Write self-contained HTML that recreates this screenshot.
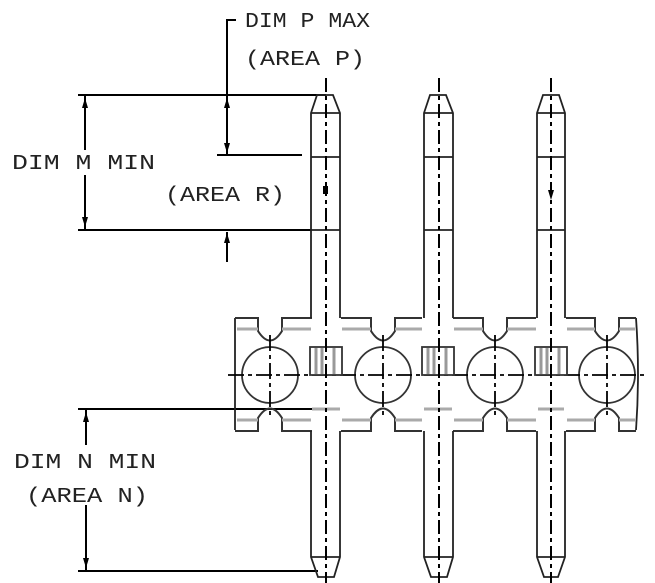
<!DOCTYPE html>
<html><head><style>html,body{margin:0;padding:0;background:#fff}svg{display:block}
text{font-family:"Liberation Mono",monospace;font-size:21px;fill:#222}</style></head>
<body>
<svg width="655" height="583" viewBox="0 0 655 583" xmlns="http://www.w3.org/2000/svg">
<g stroke="#000" stroke-width="2" fill="none">
<polyline points="236,20 227,20 227,155"/>
<line x1="217" y1="155" x2="302" y2="155"/>
<line x1="227" y1="232" x2="227" y2="262"/>
<line x1="78" y1="95" x2="326" y2="95"/>
<line x1="78" y1="230" x2="312" y2="230"/>
<line x1="85" y1="95" x2="85" y2="150"/>
<line x1="85" y1="175" x2="85" y2="230"/>
<line x1="78" y1="409" x2="312" y2="409"/>
<line x1="78" y1="571" x2="318" y2="571"/>
<line x1="86" y1="409" x2="86" y2="445"/>
<line x1="86" y1="505" x2="86" y2="571"/>
</g>
<g fill="#000">
<polygon points="227,98 224,108 230,108"/><polygon points="227,153 224,143 230,143"/>
<polygon points="227,233 224,243 230,243"/>
<polygon points="85,98 82,108 88,108"/><polygon points="85,227 82,217 88,217"/>
<polygon points="86,412 83,422 89,422"/><polygon points="86,568 83,558 89,558"/>
</g>
<text x="245" y="27" textLength="125" lengthAdjust="spacingAndGlyphs">DIM P MAX</text>
<text x="245" y="65" textLength="120" lengthAdjust="spacingAndGlyphs">(AREA P)</text>
<text x="12" y="169" textLength="143" lengthAdjust="spacingAndGlyphs">DIM M MIN</text>
<text x="165" y="201" textLength="120" lengthAdjust="spacingAndGlyphs">(AREA R)</text>
<text x="14" y="468" textLength="142" lengthAdjust="spacingAndGlyphs">DIM N MIN</text>
<text x="26" y="502" textLength="122" lengthAdjust="spacingAndGlyphs">(AREA N)</text>

<g stroke="#222" stroke-width="1.8" fill="none">
<path d="M235,318 L235,430"/>
<path d="M636,318 Q640,374 636,430"/>
</g>
<g stroke="#333" stroke-width="2" fill="none">
<path d="M235,318 H258 V331 Q270,350 282,331 V318 H312"/>
<path d="M341,318 H371 V331 Q383,350 395,331 V318 H422"/>
<path d="M453,318 H483 V331 Q495,350 507,331 V318 H536"/>
<path d="M566,318 H595 V331 Q607,350 619,331 V318 H636"/>
<path d="M235,431 H258 V418 Q270,399 282,418 V431 H312"/>
<path d="M341,431 H371 V418 Q383,399 395,418 V431 H422"/>
<path d="M453,431 H483 V418 Q495,399 507,418 V431 H536"/>
<path d="M566,431 H595 V418 Q607,399 619,418 V431 H636"/>
</g>
<g stroke="#aaa" stroke-width="3">
<line x1="237" y1="329" x2="258" y2="329"/><line x1="282" y1="329" x2="311" y2="329"/>
<line x1="342" y1="329" x2="371" y2="329"/><line x1="395" y1="329" x2="422" y2="329"/>
<line x1="454" y1="329" x2="483" y2="329"/><line x1="507" y1="329" x2="536" y2="329"/>
<line x1="567" y1="329" x2="595" y2="329"/><line x1="619" y1="329" x2="635" y2="329"/>
<line x1="237" y1="420" x2="258" y2="420"/><line x1="282" y1="420" x2="311" y2="420"/>
<line x1="342" y1="420" x2="371" y2="420"/><line x1="395" y1="420" x2="422" y2="420"/>
<line x1="454" y1="420" x2="483" y2="420"/><line x1="507" y1="420" x2="536" y2="420"/>
<line x1="567" y1="420" x2="595" y2="420"/><line x1="619" y1="420" x2="635" y2="420"/>
<line x1="312" y1="409" x2="340" y2="409"/><line x1="424" y1="409" x2="452" y2="409"/><line x1="538" y1="409" x2="564" y2="409"/>
</g>
<g stroke="#333" stroke-width="1.8" fill="none">
<circle cx="270" cy="375" r="28"/><circle cx="383" cy="375" r="28"/>
<circle cx="495" cy="375" r="28"/><circle cx="607" cy="375" r="28"/>
</g>
<g stroke="#000" stroke-width="1.8" stroke-dasharray="16,4,4,4">
<line x1="228" y1="375" x2="645" y2="375"/>
<line x1="270" y1="335" x2="270" y2="418"/><line x1="383" y1="335" x2="383" y2="418"/>
<line x1="495" y1="335" x2="495" y2="418"/><line x1="607" y1="335" x2="607" y2="418"/>
</g>
<g stroke="#333" stroke-width="1.8" fill="#fff">
<rect x="310" y="347" width="32" height="28"/><rect x="422" y="347" width="32" height="28"/><rect x="535" y="347" width="32" height="28"/>
</g>
<g stroke="#999" stroke-width="3">
<line x1="316" y1="348" x2="316" y2="374"/><line x1="322" y1="348" x2="322" y2="374"/><line x1="334" y1="348" x2="334" y2="374"/>
<line x1="428" y1="348" x2="428" y2="374"/><line x1="434" y1="348" x2="434" y2="374"/><line x1="446" y1="348" x2="446" y2="374"/>
<line x1="541" y1="348" x2="541" y2="374"/><line x1="547" y1="348" x2="547" y2="374"/><line x1="559" y1="348" x2="559" y2="374"/>
</g>
<g stroke="#222" stroke-width="1.8" fill="none">
<path d="M311,318 V113 L317,95 H333 L340,113 V318"/>
<path d="M311,431 V557 L318,577 H334 L340,557 V431"/>
<line x1="311" y1="113" x2="340" y2="113"/><line x1="311" y1="157" x2="340" y2="157"/><line x1="311" y1="230" x2="340" y2="230"/><line x1="311" y1="557" x2="340" y2="557"/>
<path d="M424,318 V113 L430,95 H446 L453,113 V318"/>
<path d="M424,431 V557 L431,577 H447 L453,557 V431"/>
<line x1="424" y1="113" x2="453" y2="113"/><line x1="424" y1="157" x2="453" y2="157"/><line x1="424" y1="230" x2="453" y2="230"/><line x1="424" y1="557" x2="453" y2="557"/>
<path d="M537,318 V113 L543,95 H559 L565,113 V318"/>
<path d="M537,431 V557 L544,577 H558 L565,557 V431"/>
<line x1="537" y1="113" x2="565" y2="113"/><line x1="537" y1="157" x2="565" y2="157"/><line x1="537" y1="230" x2="565" y2="230"/><line x1="537" y1="557" x2="565" y2="557"/>
</g>
<g stroke="#000" stroke-width="2" stroke-dasharray="14,4,4,4">
<line x1="326" y1="78" x2="326" y2="583"/>
<line x1="439" y1="78" x2="439" y2="583"/>
<line x1="551" y1="78" x2="551" y2="583"/>
</g>
<rect x="323" y="186" width="5" height="8" fill="#000"/>
<polygon points="548,190 554,190 551,200" fill="#000"/>
</svg>
</body></html>
